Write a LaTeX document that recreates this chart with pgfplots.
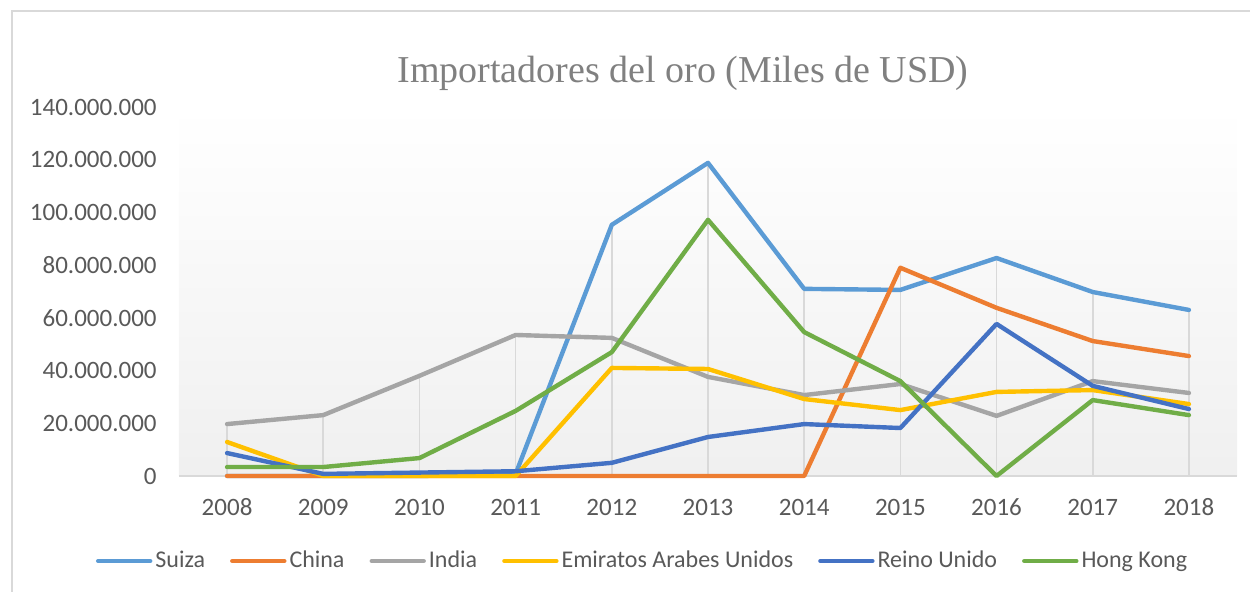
\documentclass[border=0pt]{standalone}
\usepackage{fontspec}
\setmainfont{Carlito}
\newfontfamily\titlefont{Liberation Serif}
\usepackage{pgfplots}
\pgfplotsset{compat=1.18}

\definecolor{suiza}{HTML}{5B9BD5}
\definecolor{china}{HTML}{ED7D31}
\definecolor{india}{HTML}{A5A5A5}
\definecolor{emiratos}{HTML}{FFC000}
\definecolor{reino}{HTML}{4472C4}
\definecolor{hongkong}{HTML}{70AD47}
\definecolor{txt}{HTML}{595959}
\definecolor{gridc}{HTML}{D9D9D9}

\begin{document}
\begin{tikzpicture}
\useasboundingbox (0,0) rectangle (625pt,-296pt);
\draw[gridc, line width=1pt] (6pt,-320pt) -- (6pt,-5.5pt) -- (650pt,-5.5pt);
\node[font=\titlefont\fontsize{19}{22}\selectfont, text=black!50, anchor=base] at (341.5pt,-41.5pt) {Importadores del oro (Miles de USD)};
\begin{axis}[
  at={(89.5pt,-238pt)}, anchor=south west,
  scale only axis,
  width=529pt, height=184.5pt,
  xmin=2007.5, xmax=2018.5,
  ymin=0, ymax=140000000,
  clip=false,
  axis line style={draw=none},
  axis background/.style={shade, top color=white, bottom color=black!6},
  major tick length=0pt,
  xtick={2008,2009,2010,2011,2012,2013,2014,2015,2016,2017,2018},
  xticklabels={2008,2009,2010,2011,2012,2013,2014,2015,2016,2017,2018},
  ytick={0,20000000,40000000,60000000,80000000,100000000,120000000,140000000},
  scaled y ticks=false,
  /pgf/number format/assume math mode=true,
  yticklabel style={/pgf/number format/fixed, /pgf/number format/precision=0, /pgf/number format/1000 sep={.},
    anchor=east, inner sep=0pt, xshift=-11pt},
  tick label style={font=\fontsize{12.5}{15}\selectfont, text=txt},
  xticklabel style={anchor=base, yshift=-20pt},
  legend columns=-1,
  legend style={draw=none, fill=none, at={(0.4386,-0.2304)}, anchor=center,
    font=\fontsize{12}{14}\selectfont, text=txt,
    /tikz/every even column/.append style={column sep=11pt},
    nodes={inner sep=1.5pt}},
  legend image code/.code={\draw[#1] (0pt,0pt) -- (26pt,0pt);},
  every axis plot/.append style={line width=2.2pt, line join=round, line cap=round},
]
% drop lines and base line
\addplot[forget plot, ycomb, draw=gridc, line width=0.8pt, line cap=butt] coordinates {
  (2008,19700000) (2009,23100000) (2010,38000000) (2011,53500000) (2012,95300000)
  (2013,118800000) (2014,71000000) (2015,79000000) (2016,82700000) (2017,69800000) (2018,63000000)};
\addplot[forget plot, draw=gridc, line width=1pt, line cap=butt] coordinates {(2007.5,0) (2018.5,0)};

\addplot[suiza] coordinates {
  (2008,0) (2009,0) (2010,0) (2011,800000) (2012,95300000) (2013,118800000)
  (2014,71000000) (2015,70600000) (2016,82700000) (2017,69800000) (2018,63000000)};
\addlegendentry{Suiza}
\addplot[china] coordinates {
  (2008,0) (2009,0) (2010,0) (2011,0) (2012,0) (2013,0)
  (2014,0) (2015,79000000) (2016,63800000) (2017,51200000) (2018,45500000)};
\addlegendentry{China}
\addplot[india] coordinates {
  (2008,19700000) (2009,23100000) (2010,38000000) (2011,53500000) (2012,52400000) (2013,37600000)
  (2014,30700000) (2015,34900000) (2016,22800000) (2017,36000000) (2018,31500000)};
\addlegendentry{India}
\addplot[emiratos] coordinates {
  (2008,12900000) (2009,0) (2010,0) (2011,0) (2012,41000000) (2013,40600000)
  (2014,29200000) (2015,25000000) (2016,31900000) (2017,32600000) (2018,27300000)};
\addlegendentry{Emiratos Arabes Unidos}
\addplot[reino] coordinates {
  (2008,8700000) (2009,800000) (2010,1300000) (2011,1800000) (2012,5000000) (2013,14800000)
  (2014,19700000) (2015,18200000) (2016,57700000) (2017,34200000) (2018,25400000)};
\addlegendentry{Reino Unido}
\addplot[hongkong] coordinates {
  (2008,3400000) (2009,3400000) (2010,6800000) (2011,24700000) (2012,47000000) (2013,97200000)
  (2014,54600000) (2015,36000000) (2016,0) (2017,28800000) (2018,23100000)};
\addlegendentry{Hong Kong}
\end{axis}
\end{tikzpicture}
\end{document}
